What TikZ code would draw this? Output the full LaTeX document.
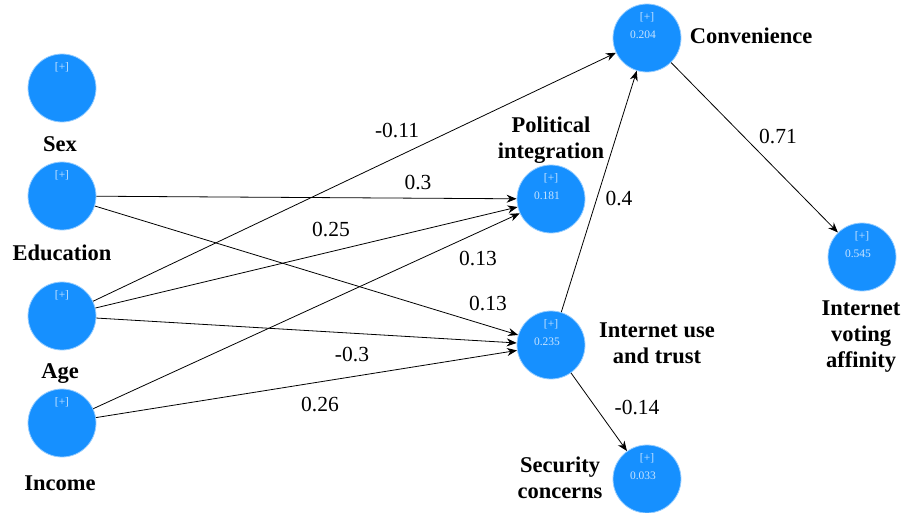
\documentclass[tikz,border=0pt]{standalone}
\usepackage{fontspec}
\setmainfont{Liberation Serif}
\newfontfamily\lserif{Liberation Serif}
\usetikzlibrary{arrows.meta}
\definecolor{lvfill}{RGB}{22,144,255}
\definecolor{lvedge}{RGB}{150,205,255}
\definecolor{lvtext}{RGB}{200,228,255}
\begin{document}
\begin{tikzpicture}[x=1pt,y=-1pt,
  lv/.style={circle,fill=lvfill,draw=lvedge,line width=0.8pt,minimum size=68pt,inner sep=0pt},
  small/.style={font=\lserif\fontsize{11.5}{13}\selectfont,text=lvtext,inner sep=0pt},
  vname/.style={font=\lserif\bfseries\fontsize{22.5}{26}\selectfont,align=center,inner sep=0pt},
  coef/.style={font=\lserif\fontsize{21.5}{24}\selectfont,inner sep=0pt},
  link/.style={draw,line width=0.8pt,-{Stealth[length=10pt,width=8pt]}}
]
\useasboundingbox (0,0) rectangle (904,512);

% latent variables
\node[lv] (sex) at (62,88) {};
\node[lv] (edu) at (62,196) {};
\node[lv] (age) at (62,316) {};
\node[lv] (inc) at (62,423) {};
\node[lv] (pol) at (551,199) {};
\node[lv] (use) at (551,345) {};
\node[lv] (con) at (647,38) {};
\node[lv] (ivf) at (862,257) {};
\node[lv] (sec) at (647,479) {};

% [+] markers
\node[small] (sexp) at (62,67.5) {[+]};
\node[small] (edup) at (62,175.5) {[+]};
\node[small] (agep) at (62,295.5) {[+]};
\node[small] (incp) at (62,402.5) {[+]};
\node[small] (polp) at (551,178.5) {[+]};
\node[small] (usep) at (551,324.5) {[+]};
\node[small] (conp) at (647,17.5) {[+]};
\node[small] (ivfp) at (862,236.5) {[+]};
\node[small] (secp) at (647,458.5) {[+]};

% R-squared values
\node[small] (polr) at (547,195.5) {0.181};
\node[small] (user) at (547,341.5) {0.235};
\node[small] (conr) at (643,34.5) {0.204};
\node[small] (ivfr) at (858,253.5) {0.545};
\node[small] (secr) at (643,475.5) {0.033};

% names
\node[vname,anchor=base] (sexn) at (60,151.5) {Sex};
\node[vname,anchor=base] (edun) at (62,260) {Education};
\node[vname,anchor=base] (agen) at (60,378) {Age};
\node[vname,anchor=base] (incn) at (60,490) {Income};
\node[vname,anchor=base] (conn) at (751,43) {Convenience};
\node[vname] (poln) at (551,140.5) {Political\\integration};
\node[vname] (usen) at (657,343.5) {Internet use\\and trust};
\node[vname] (secn) at (560,478) {Security\\concerns};
\node[vname] (ivfn) at (861,337) {Internet\\voting\\affinity};

% paths
\draw[link] (edu) -- (pol);
\draw[link] (edu) -- (use);
\draw[link] (age) -- (con);
\draw[link] (age) -- (pol);
\draw[link] (age) -- (use);
\draw[link] (inc) -- (pol);
\draw[link] (inc) -- (use);
\draw[link] (use) -- (con);
\draw[link] (con) -- (ivf);
\draw[link] (use) -- (sec);

% coefficients
\node[coef] (c1) at (397,130) {-0.11};
\node[coef] (c2) at (418,182) {0.3};
\node[coef] (c3) at (331,229) {0.25};
\node[coef] (c4) at (478,258) {0.13};
\node[coef] (c5) at (488,303) {0.13};
\node[coef] (c6) at (352,354) {-0.3};
\node[coef] (c7) at (320,404) {0.26};
\node[coef] (c8) at (619,198) {0.4};
\node[coef] (c9) at (778,136) {0.71};
\node[coef] (c10) at (637,407) {-0.14};
\end{tikzpicture}
\end{document}
